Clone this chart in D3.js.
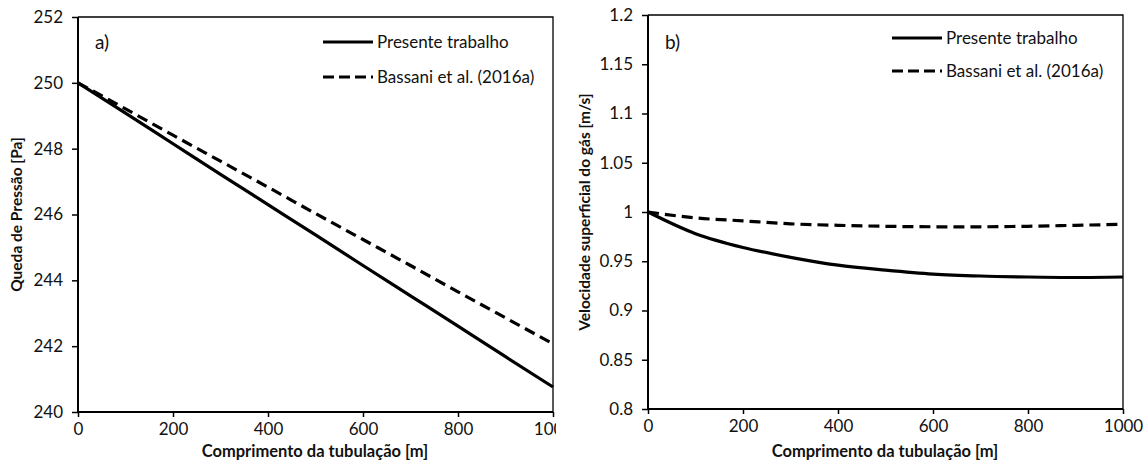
<!DOCTYPE html>
<html>
<head>
<meta charset="utf-8">
<script src="https://cdn.jsdelivr.net/npm/d3@7"></script>
<style>
  body { margin: 0; background: #fff; }
  svg { font-family: Lato, 'Open Sans', sans-serif; }
</style>
</head>
<body>
<svg width="1148" height="466"></svg>
<script>
// comprimento da tubulação [m]
const comprimento = [0, 100, 200, 300, 400, 500, 600, 700, 800, 900, 1000]

// a) queda de pressão [Pa]
const pressaoPresente = [250, 249.08, 248.15, 247.22, 246.3, 245.38, 244.45, 243.53, 242.61, 241.68, 240.76]
const pressaoBassani  = [250, 249.21, 248.41, 247.62, 246.83, 246.03, 245.24, 244.45, 243.65, 242.86, 242.07]

// b) velocidade superficial do gás [m/s]
const velPresente = [1.0, 0.978, 0.964, 0.954, 0.946, 0.941, 0.937, 0.935, 0.934, 0.9335, 0.934]
const velBassani  = [1.0, 0.994, 0.991, 0.988, 0.9865, 0.9855, 0.985, 0.985, 0.9855, 0.9865, 0.9875]

const xTicks = [0, 200, 400, 600, 800, 1000]
const pressaoTicks = [240, 242, 244, 246, 248, 250, 252]
const velTicks = [0.8, 0.85, 0.9, 0.95, 1, 1.05, 1.1, 1.15, 1.2]

const seriesNames = ['Presente trabalho', 'Bassani et al. (2016a)']

let svg = d3.select('svg')

svg.append('defs').append('clipPath')
    .attr('id', 'clipA')
    .append('rect')
    .attr('x', 0).attr('y', 0)
    .attr('width', 556).attr('height', 466)

function drawPanel(opts) {
    let g = svg.append('g')
    if (opts.clip) g.attr('clip-path', 'url(#' + opts.clip + ')')

    let xScale = d3.scaleLinear().domain([0, 1000]).range([opts.left, opts.left + 475])
    let yScale = d3.scaleLinear().domain(opts.yDomain).range([opts.bottom, opts.top])

    // plot frame (top + right)
    g.append('path')
        .attr('d', 'M' + opts.left + ',' + opts.top + 'H' + (opts.left + 475) + 'V' + opts.bottom)
        .attr('fill', 'none')
        .attr('stroke', '#000')
        .attr('stroke-width', 1.3)

    let xAxis = d3.axisBottom(xScale)
        .tickValues(xTicks)
        .tickSize(5)
        .tickPadding(6)
        .tickFormat(d3.format('d'))
    let gx = g.append('g')
        .attr('transform', 'translate(0,' + opts.bottom + ')')
        .call(xAxis)

    let yAxis = d3.axisLeft(yScale)
        .tickValues(opts.yTicks)
        .tickSize(6)
        .tickPadding(9)
        .tickFormat(opts.yFormat)
    let gy = g.append('g')
        .attr('transform', 'translate(' + opts.left + ',0)')
        .call(yAxis)

    ;[gx, gy].forEach((a) => {
        a.select('.domain').attr('d', null)
        a.selectAll('.tick line').attr('stroke-width', 1.5)
        a.selectAll('.tick text')
            .attr('font-size', 17)
            .attr('fill', '#111')
            .attr('font-family', 'Lato, sans-serif')
    })
    // axis lines drawn by hand so they are thicker
    g.append('line')
        .attr('x1', opts.left).attr('x2', opts.left + 475)
        .attr('y1', opts.bottom).attr('y2', opts.bottom)
        .attr('stroke', '#000').attr('stroke-width', 2)
    g.append('line')
        .attr('x1', opts.left).attr('x2', opts.left)
        .attr('y1', opts.top).attr('y2', opts.bottom)
        .attr('stroke', '#000').attr('stroke-width', 2)

    // data lines
    let line = d3.line()
        .x((d, i) => xScale(comprimento[i]))
        .y((d) => yScale(d))
        .curve(d3.curveMonotoneX)

    g.append('path')
        .datum(opts.solid)
        .attr('d', line)
        .attr('fill', 'none')
        .attr('stroke', '#000')
        .attr('stroke-width', 3.2)

    g.append('path')
        .datum(opts.dashed)
        .attr('d', line)
        .attr('fill', 'none')
        .attr('stroke', '#000')
        .attr('stroke-width', 3.2)
        .attr('stroke-dasharray', '11,6')

    // panel tag
    g.append('text')
        .attr('x', opts.left + 17)
        .attr('y', 49)
        .attr('font-size', 19)
        .attr('fill', '#111')
        .text(opts.tag)

    // legend
    seriesNames.forEach((name, i) => {
        let ly = opts.legendY[i]
        g.append('line')
            .attr('x1', opts.legendX).attr('x2', opts.legendX + 50)
            .attr('y1', ly).attr('y2', ly)
            .attr('stroke', '#000')
            .attr('stroke-width', 3.2)
            .attr('stroke-dasharray', i == 1 ? '11,5' : null)
        g.append('text')
            .attr('x', opts.legendX + 54)
            .attr('y', ly + 6)
            .attr('font-size', 17)
            .attr('fill', '#111')
            .text(name)
    })

    // axis titles
    g.append('text')
        .attr('x', opts.left + 237)
        .attr('y', 457)
        .attr('text-anchor', 'middle')
        .attr('font-size', 16.5)
        .attr('font-weight', 'bold')
        .attr('fill', '#111')
        .text('Comprimento da tubulação [m]')

    g.append('text')
        .attr('transform', 'translate(' + opts.yTitleX + ',' + ((opts.top + opts.bottom) / 2) + ') rotate(-90)')
        .attr('text-anchor', 'middle')
        .attr('font-size', 15.5)
        .attr('font-weight', 'bold')
        .attr('fill', '#111')
        .text(opts.yTitle)
}

drawPanel({
    left: 78, top: 17, bottom: 412,
    yDomain: [240, 252], yTicks: pressaoTicks, yFormat: d3.format('d'),
    solid: pressaoPresente, dashed: pressaoBassani,
    tag: 'a)', legendX: 323, legendY: [42, 77],
    yTitle: 'Queda de Pressão [Pa]', yTitleX: 22,
    clip: 'clipA'
})

drawPanel({
    left: 648, top: 15, bottom: 409,
    yDomain: [0.8, 1.2], yTicks: velTicks, yFormat: (d) => d3.format('')(+d.toFixed(2)),
    solid: velPresente, dashed: velBassani,
    tag: 'b)', legendX: 892, legendY: [38, 71],
    yTitle: 'Velocidade superficial do gás [m/s]', yTitleX: 590
})
</script>
</body>
</html>
